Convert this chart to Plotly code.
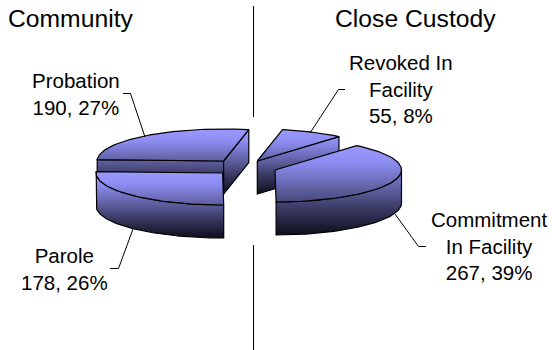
import numpy as np
import plotly.graph_objects as go

# data, in drawing order round the pie (clockwise from the start angle)
categories = ["Revoked In<br>Facility", "Commitment<br>In Facility", "Parole", "Probation"]
values = [55, 267, 178, 190]
percents = [8, 39, 26, 27]
titles = ["Community", "Close Custody"]

# layout of the exploded pie (pixels on a 552x350 canvas)
START = 78.5
A, B, DEPTH = 126.5, 32.0, 33.0
apex = {"Revoked": (257.3, 161.0), "Commitment": (275.0, 170.0),
        "Parole": (222.6, 173.0), "Probation": (223.6, 161.0)}
keys = ["Revoked", "Commitment", "Parole", "Probation"]
label_xy = [(401, 89), (489, 246), (64, 268.5), (76, 93.5)]
leaders = [[(345, 89.5), (338.5, 89.5), (310, 133)],
           [(426, 246.5), (418.5, 246.5), (395, 214)],
           [(110, 268.5), (118.5, 268.5), (133, 229)],
           [(123, 93.5), (130.5, 93.5), (145, 137)]]
title_xy = [(70.5, 18), (415, 18)]
dividers = [[(253.5, 6), (253.5, 117)], [(253.5, 245), (253.5, 350)]]
GRADIENT = [[0, "#9999FF"], [0.2, "#8C8CF0"], [0.55, "#55558F"], [0.7, "#3A3A64"], [1, "#0E0E1C"]]
FONT = "Liberation Sans"

total = sum(values)
sweeps = [v / total * 360 for v in values]
spans = {}
a = START
for k, s in zip(keys, sweeps):
    spans[k] = (a, a - s)
    a -= s


def arc(k, t0, t1, dy=0.0, n=60):
    cx, cy = apex[k]
    t = np.radians(np.linspace(t0, t1, n))
    return cx + A * np.cos(t), cy - B * np.sin(t) + dy


fig = go.Figure()


def poly(x, y, y0, y1):
    fig.add_trace(go.Scatter(
        x=list(x) + [x[0]], y=list(y) + [y[0]], mode="lines", fill="toself",
        line=dict(color="#000000", width=1.2), hoverinfo="skip", showlegend=False,
        fillgradient=dict(type="vertical", start=y0, stop=y1, colorscale=GRADIENT)))


def slice_(k, wall_from, wall_to, radial_face=None):
    t0, t1 = spans[k]
    cx, cy = apex[k]
    ax, ay = arc(k, t0, t1)
    y0, y1 = float(ay.min()), float(max(ay.max(), cy)) + DEPTH
    # outer wall
    if wall_from is not None:
        wx, wy = arc(k, wall_from, wall_to)
        wx2, wy2 = arc(k, wall_to, wall_from, DEPTH)
        poly(np.r_[wx, wx2], np.r_[wy, wy2], y0, y1)
    # straight wall(s)
    for angle in (radial_face or []):
        ex, ey = arc(k, angle, angle, n=1)
        poly([cx, ex[0], ex[0], cx], [cy, ey[0], ey[0] + DEPTH, cy + DEPTH], y0, y1)
    # top face
    poly(np.r_[cx, ax], np.r_[cy, ay], y0, y1)


# close-custody half
s = spans["Revoked"]
slice_("Revoked", None, None, radial_face=[s[1]])
s = spans["Commitment"]
slice_("Commitment", 0, s[1])
# community half
s = spans["Probation"]
slice_("Probation", None, None, radial_face=[s[0], s[1]])
s = spans["Parole"]
slice_("Parole", s[0], s[1])

for seg in dividers + leaders:
    fig.add_trace(go.Scatter(x=[p[0] for p in seg], y=[p[1] for p in seg], mode="lines",
                             line=dict(color="#000000", width=1), hoverinfo="skip", showlegend=False))

for name, v, pct, (x, y) in zip(categories, values, percents, label_xy):
    fig.add_annotation(x=x, y=y, text=f"{name}<br>{v}, {pct}%", showarrow=False,
                       xanchor="center", yanchor="middle", align="center",
                       font=dict(family=FONT, size=20.5, color="#000000"))
for t, (x, y) in zip(titles, title_xy):
    fig.add_annotation(x=x, y=y, text=t, showarrow=False, xanchor="center", yanchor="middle",
                       font=dict(family=FONT, size=24.7, color="#000000"))

fig.update_layout(width=552, height=350, margin=dict(l=0, r=0, t=0, b=0),
                  paper_bgcolor="white", plot_bgcolor="white", showlegend=False)
fig.update_xaxes(range=[0, 552], visible=False, fixedrange=True)
fig.update_yaxes(range=[350, 0], visible=False, fixedrange=True)
fig.write_html("out.html", config=dict(displayModeBar=False),
               post_script="document.body.style.margin='0';document.body.style.overflow='hidden';")
